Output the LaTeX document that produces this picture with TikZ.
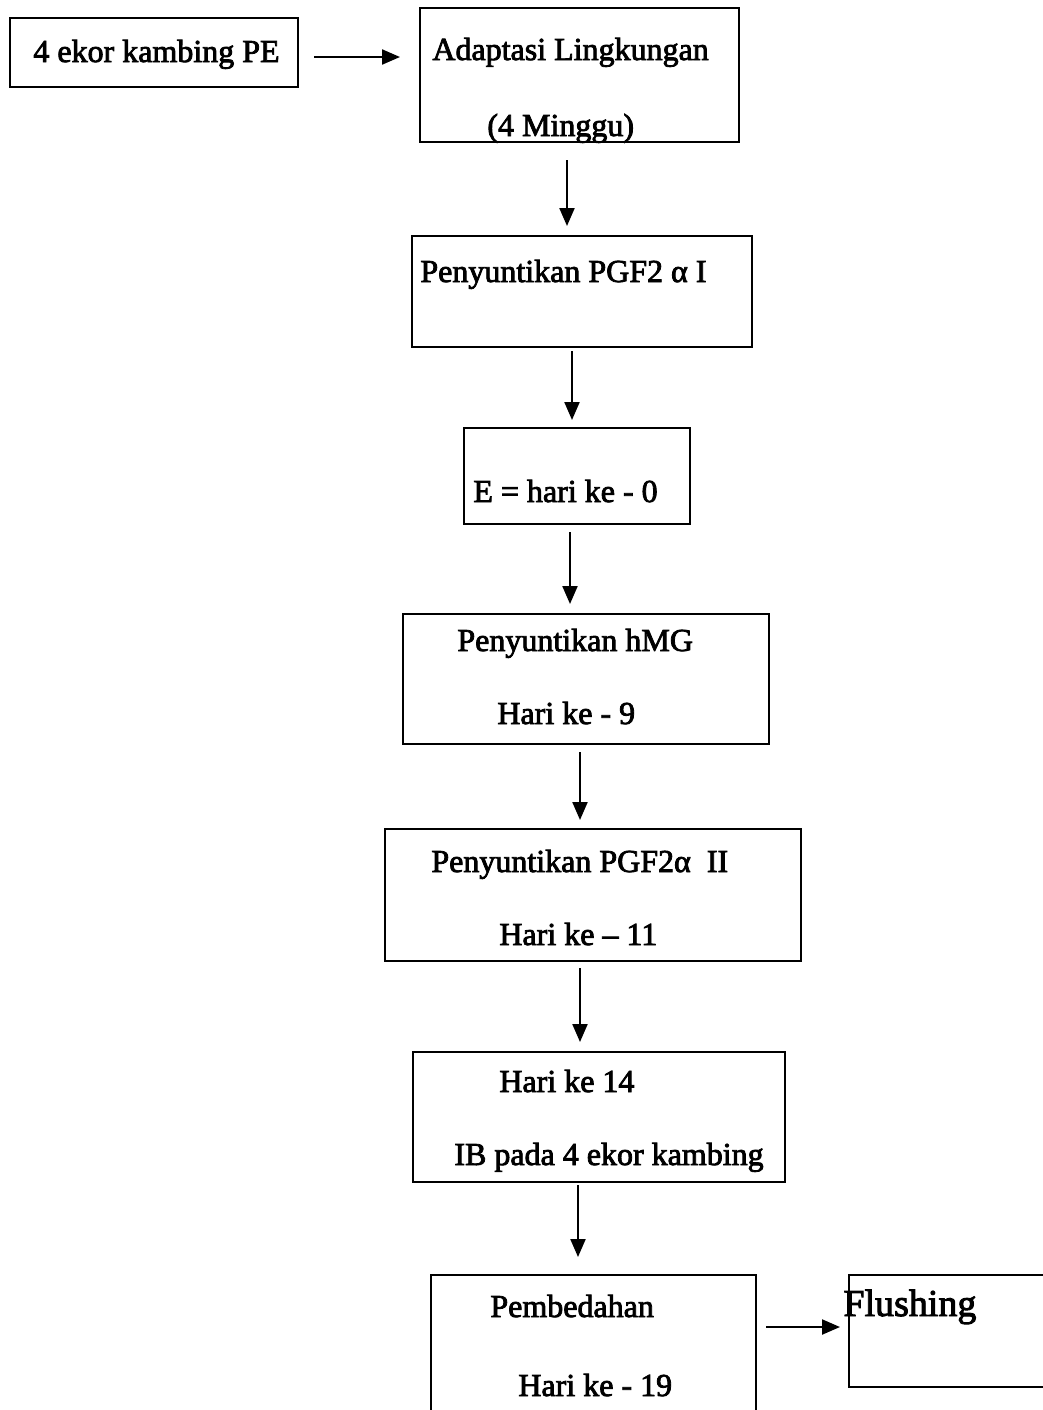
\documentclass[tikz,border=0pt]{standalone}
\usepackage{fontspec}
\setmainfont{Liberation Serif}[FakeBold=2.5]
\usetikzlibrary{arrows.meta,fit}
\begin{document}
\begin{tikzpicture}[x=0.5pt,y=-0.5pt,
  box/.style={draw, line width=1.4pt, inner sep=0pt, outer sep=0pt},
  lbl/.style={anchor=base west, inner sep=0pt, font=\fontsize{16}{19}\selectfont},
  arr/.style={line width=1.1pt, -{Triangle[width=7.5pt,length=9pt]}}]
\clip (0,0) rectangle (1043,1410);
\fill[white] (0,0) rectangle (1043,1410);
% boxes
\node[box, fit={(10,18) (298,87)}] (b1) {};
\node[box, fit={(420,8) (739,142)}] (b2) {};
\node[box, fit={(412,236) (752,347)}] (b3) {};
\node[box, fit={(464,428) (690,524)}] (b4) {};
\node[box, fit={(403,614) (769,744)}] (b5) {};
\node[box, fit={(385,829) (801,961)}] (b6) {};
\node[box, fit={(413,1052) (785,1182)}] (b7) {};
\node[box, fit={(431,1275) (756,1440)}] (b8) {};
\node[box, fit={(849,1275) (1070,1387)}] (b9) {};
% texts
\node[lbl] (t1) at (33,62) {4 ekor kambing PE};
\node[lbl] (t2a) at (432,60) {Adaptasi Lingkungan};
\node[lbl] (t2b) at (487,136) {(4 Minggu)};
\node[lbl] (t3) at (420,282) {Penyuntikan PGF2 α I};
\node[lbl] (t4) at (473,502) {E = hari ke - 0};
\node[lbl] (t5a) at (457,651) {Penyuntikan hMG};
\node[lbl] (t5b) at (497,724) {Hari ke - 9};
\node[lbl] (t6a) at (431,872) {Penyuntikan PGF2α\ \ II};
\node[lbl] (t6b) at (499,945) {Hari ke – 11};
\node[lbl] (t7a) at (499,1092) {Hari ke 14};
\node[lbl] (t7b) at (454,1165) {IB pada 4 ekor kambing};
\node[lbl] (t8a) at (490,1317) {Pembedahan};
\node[lbl] (t8b) at (518,1396) {Hari ke - 19};
\node[lbl, font=\fontsize{19}{22}\selectfont] (t9) at (843,1316) {Flushing};
% arrows
\draw[arr, shorten <=8pt, shorten >=10pt] (b1.east |- 0,57) -- (b2.west |- 0,57);
\draw[arr, shorten <=9pt, shorten >=5pt] (b2.south -| 567,0) -- (b3.north -| 567,0);
\draw[arr, shorten <=2pt, shorten >=4pt] (b3.south -| 572,0) -- (b4.north -| 572,0);
\draw[arr, shorten <=4pt, shorten >=5pt] (b4.south -| 570,0) -- (b5.north -| 570,0);
\draw[arr, shorten <=4pt, shorten >=4.5pt] (b5.south -| 580,0) -- (b6.north -| 580,0);
\draw[arr, shorten <=3.5pt, shorten >=5pt] (b6.south -| 580,0) -- (b7.north -| 580,0);
\draw[arr, shorten <=1.5pt, shorten >=9pt] (b7.south -| 578,0) -- (b8.north -| 578,0);
\draw[arr, shorten <=5pt, shorten >=4.5pt] (b8.east |- 0,1327) -- (b9.west |- 0,1327);
\end{tikzpicture}
\end{document}
